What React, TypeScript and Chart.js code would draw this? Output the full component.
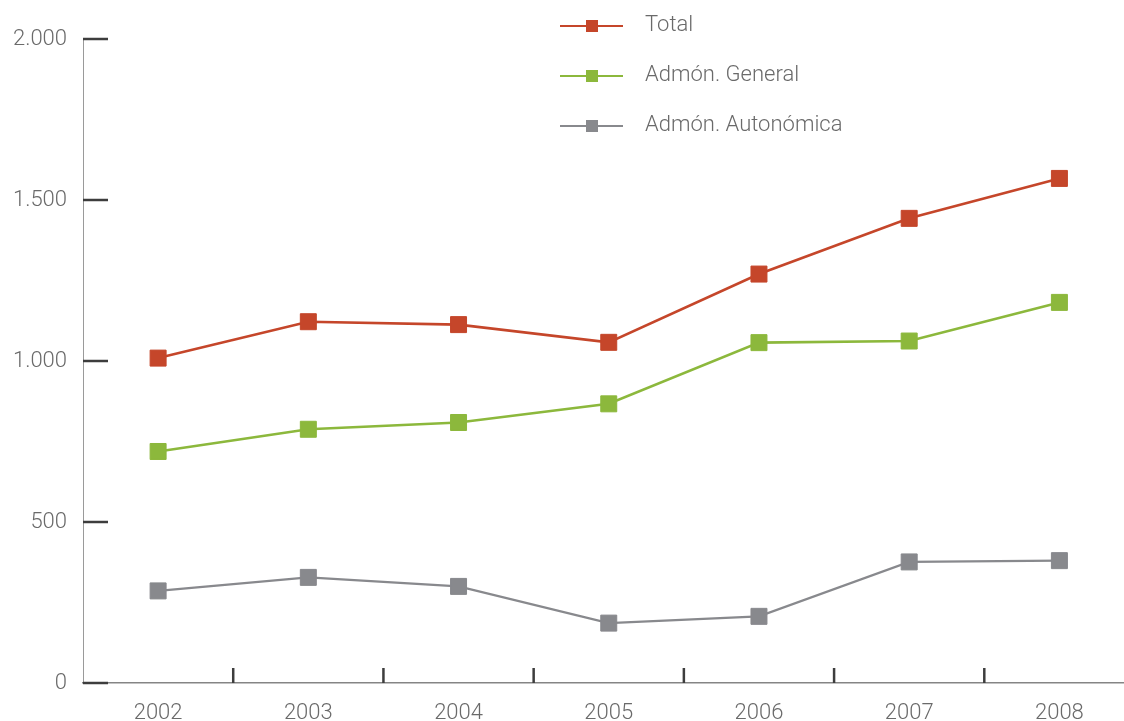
import React, { useEffect, useRef } from 'react';
import { Chart, registerables } from 'chart.js';

Chart.register(...registerables);

const years = ['2002', '2003', '2004', '2005', '2006', '2007', '2008'];
const seriesNames = ['Total', 'Admón. General', 'Admón. Autonómica'];
const totalValues = [1009, 1122, 1113, 1058, 1270, 1443, 1567];
const generalValues = [719, 788, 809, 867, 1057, 1062, 1182];
const autonomicaValues = [286, 328, 300, 186, 207, 376, 380];
const yTickValues = [0, 500, 1000, 1500, 2000];

const FONT = 'Roboto, "Liberation Sans", sans-serif';
const TEXT_COLOR = '#6a6a6a';

const formatThousands = (v: number) =>
  String(v).replace(/\B(?=(\d{3})+(?!\d))/g, '.');

const innerTicksPlugin = {
  id: 'innerTicks',
  beforeDatasetsDraw(chart: any) {
    const { ctx, scales } = chart;
    const xs = scales.x;
    const ys = scales.y;
    ctx.save();
    ctx.strokeStyle = '#3d3d3d';
    ctx.lineWidth = 2.5;
    yTickValues.forEach((v) => {
      const py = ys.getPixelForValue(v);
      ctx.beginPath();
      ctx.moveTo(xs.left, py);
      ctx.lineTo(xs.left + 25, py);
      ctx.stroke();
    });
    for (let i = 0; i < years.length - 1; i++) {
      const mid = (Number(years[i]) + Number(years[i + 1])) / 2;
      const px = xs.getPixelForValue(mid);
      ctx.beginPath();
      ctx.moveTo(px, ys.bottom);
      ctx.lineTo(px, ys.bottom - 15);
      ctx.stroke();
    }
    ctx.restore();
  },
};

const legendPlugin = {
  id: 'customLegend',
  afterDraw(chart: any) {
    const { ctx } = chart;
    chart.data.datasets.forEach((ds: any, i: number) => {
      const y = 26 + i * 50;
      ctx.save();
      ctx.strokeStyle = ds.borderColor;
      ctx.lineWidth = 2;
      ctx.beginPath();
      ctx.moveTo(560, y);
      ctx.lineTo(623, y);
      ctx.stroke();
      ctx.fillStyle = ds.pointBackgroundColor;
      ctx.fillRect(586, y - 6, 12, 12);
      ctx.fillStyle = TEXT_COLOR;
      ctx.font = `300 22px ${FONT}`;
      ctx.textBaseline = 'middle';
      ctx.textAlign = 'left';
      ctx.fillText(ds.label, 645, y - 1);
      ctx.restore();
    });
  },
};

export default function App() {
  const canvasRef = useRef<HTMLCanvasElement | null>(null);

  useEffect(() => {
    document.body.style.margin = '0';
    document.body.style.overflow = 'hidden';
    document.documentElement.style.overflow = 'hidden';
    const canvas = canvasRef.current;
    if (!canvas) return;

    const toPoints = (vals: number[]) =>
      years.map((y, i) => ({ x: Number(y), y: vals[i] }));

    const colors = ['#c5462a', '#8cb83c', '#88898d'];
    const values = [totalValues, generalValues, autonomicaValues];
    const widths = [2.6, 2.6, 2.2];

    const chart = new Chart(canvas, {
      type: 'line',
      data: {
        datasets: seriesNames.map((name, i) => ({
          label: name,
          data: toPoints(values[i]),
          borderColor: colors[i],
          backgroundColor: colors[i],
          pointBackgroundColor: colors[i],
          pointBorderColor: colors[i],
          pointBorderWidth: 1,
          pointStyle: 'rect',
          pointRadius: 11.3,
          borderWidth: widths[i],
          tension: 0,
          fill: false,
          clip: false,
        })),
      },
      options: {
        animation: false,
        responsive: true,
        maintainAspectRatio: false,
        layout: { autoPadding: false, padding: { top: 39, right: 0, bottom: 0, left: 0 } },
        plugins: {
          legend: { display: false },
          tooltip: { enabled: false },
        },
        scales: {
          x: {
            type: 'linear',
            min: 2001.5,
            max: 2008.43,
            grid: { display: false },
            border: { display: true, color: '#858585', width: 1.5 },
            afterBuildTicks: (scale: any) => {
              scale.ticks = years.map((y) => ({ value: Number(y) }));
            },
            afterFit: (scale: any) => {
              scale.height = 38;
              scale.paddingLeft = 0;
              scale.paddingRight = 0;
            },
            ticks: {
              autoSkip: false,
              maxRotation: 0,
              padding: 9,
              color: TEXT_COLOR,
              font: { family: FONT, size: 22, weight: '300' },
              callback: (v: any) => String(v),
            },
          },
          y: {
            type: 'linear',
            min: 0,
            max: 2000,
            grid: { display: false },
            border: { display: true, color: '#9a9a9a', width: 1 },
            afterBuildTicks: (scale: any) => {
              scale.ticks = yTickValues.map((v) => ({ value: v }));
            },
            afterFit: (scale: any) => {
              scale.width = 83;
              scale.paddingTop = 0;
              scale.paddingBottom = 0;
            },
            ticks: {
              padding: 8,
              color: TEXT_COLOR,
              font: { family: FONT, size: 22, weight: '300' },
              callback: (v: any) => formatThousands(Number(v)),
            },
          },
        },
      },
      plugins: [innerTicksPlugin, legendPlugin],
    });

    return () => chart.destroy();
  }, []);

  return (
    <div style={{ position: 'relative', width: '1124px', height: '721px', overflow: 'hidden' }}>
      <canvas ref={canvasRef} style={{ display: 'block' }} />
    </div>
  );
}
